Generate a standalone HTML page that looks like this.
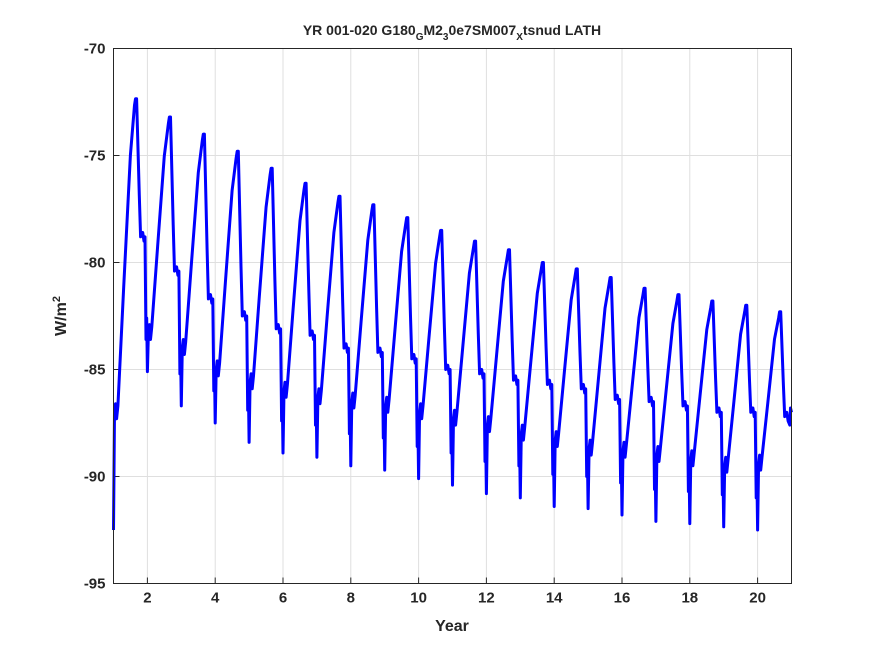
<!DOCTYPE html>
<html><head><meta charset="utf-8"><style>
body{margin:0;background:#fff;}
svg text{font-family:"Liberation Sans",sans-serif;font-weight:bold;fill:#262626;}
</style></head><body>
<svg width="875" height="656" xmlns="http://www.w3.org/2000/svg">
<rect width="875" height="656" fill="#fff"/>
<g id="grid"></g>
<g id="axes"></g>
<path id="line" fill="none" stroke="#0000ff" stroke-width="3" stroke-linejoin="round"/>
<rect x="113.5" y="48.5" width="678" height="535" fill="none" stroke="#262626" stroke-width="1"/>
<text x="452" y="35" text-anchor="middle" font-size="14">YR 001-020 G180<tspan font-size="10" dy="5">G</tspan><tspan dy="-5">M2</tspan><tspan font-size="10" dy="5">3</tspan><tspan dy="-5">0e7SM007</tspan><tspan font-size="10" dy="5">X</tspan><tspan dy="-5">tsnud LATH</tspan></text>
<text x="452" y="631" text-anchor="middle" font-size="16">Year</text>
<text transform="translate(66,316) rotate(-90)" text-anchor="middle" font-size="16">W/m<tspan font-size="11" dy="-6">2</tspan></text>
</svg>
<script>
const xTicks=[2,4,6,8,10,12,14,16,18,20];
const yTicks=[-95,-90,-85,-80,-75,-70];
const troughs=[-92.5,-85.1,-86.7,-87.5,-88.4,-88.9,-89.1,-89.5,-89.7,-90.1,-90.4,-90.8,-91,-91.4,-91.5,-91.8,-92.1,-92.2,-92.35,-92.5];
const rebounds=[-87,-83.3,-84,-85,-85.6,-86,-86.3,-86.5,-86.7,-87,-87.3,-87.6,-88,-88.3,-88.7,-88.8,-89,-89.2,-89.5,-89.4];
const peaks=[-72.35,-73.2,-74,-74.8,-75.6,-76.3,-76.9,-77.3,-77.9,-78.5,-79,-79.4,-80,-80.3,-80.7,-81.2,-81.5,-81.8,-82,-82.3];
const shoulders=[-78.8,-80.4,-81.7,-82.5,-83.1,-83.4,-84,-84.2,-84.5,-85,-85.2,-85.5,-85.7,-85.9,-86.4,-86.5,-86.7,-87,-87,-87.2];
const startYear=1, endYear=21, yMin=-95, yMax=-70;
const L=113.5,R=791.5,T=48.5,B=583.5;
const xs=v=>L+(v-startYear)/(endYear-startYear)*(R-L);
const ys=v=>B-(v-yMin)/(yMax-yMin)*(B-T);
const NS="http://www.w3.org/2000/svg";
const grid=document.getElementById('grid'),axes=document.getElementById('axes');
function mk(tag,attrs,parent){const e=document.createElementNS(NS,tag);for(const k in attrs)e.setAttribute(k,attrs[k]);parent.appendChild(e);return e;}
xTicks.forEach(t=>{const x=xs(t);
 const g=mk('line',{x1:x,x2:x,y1:T,y2:B,stroke:'#dfdfdf'},grid);
 
 
 const k=mk('line',{x1:x,x2:x,y1:B,y2:B-6,stroke:'#262626'},axes);
 
 
 const tx=mk('text',{x:x,y:B+19,'text-anchor':'middle','font-size':'15'},axes);tx.textContent=t;
 
 
});
yTicks.forEach(t=>{const y=ys(t);
 const g=mk('line',{x1:L,x2:R,y1:y,y2:y,stroke:'#dfdfdf'},grid);
 
 
 const k=mk('line',{x1:L,x2:L+6,y1:y,y2:y,stroke:'#262626'},axes);
 
 
 const tx=mk('text',{x:L-8,y:y+5,'text-anchor':'end','font-size':'15'},axes);tx.textContent=t;
 
 
});
let pts=[];
for(let i=0;i<peaks.length;i++){
 const n=startYear+i, Tr=troughs[i], Rb=rebounds[i], P=peaks[i], S=shoulders[i];
 const next=i+1<troughs.length?troughs[i+1]:null;
 pts.push([n,Tr],[n+0.03,Rb],[n+0.06,Rb+0.4],[n+0.09,Rb-0.3],[n+0.13,Rb+0.3],
  [n+0.3,Rb+(P-Rb)*0.4],[n+0.5,Rb+(P-Rb)*0.82],[n+0.62,P-0.3],[n+0.65,P],[n+0.68,P],
  [n+0.76,S+(P-S)*0.3],[n+0.8,S],[n+0.86,S+0.2],[n+0.9,S-0.2]);
 if(next!==null){pts.push([n+0.93,S],[n+0.96,next+1.5],[n+0.98,next+2.5]);}
 else pts.push([n+0.95,S-0.4],[n+0.97,S+0.4],[n+1,S+0.2]);
}
document.getElementById('line').setAttribute('d',pts.map((p,j)=>(j?'L':'M')+xs(p[0]).toFixed(1)+','+ys(p[1]).toFixed(1)).join(''));
</script>
</body></html>
